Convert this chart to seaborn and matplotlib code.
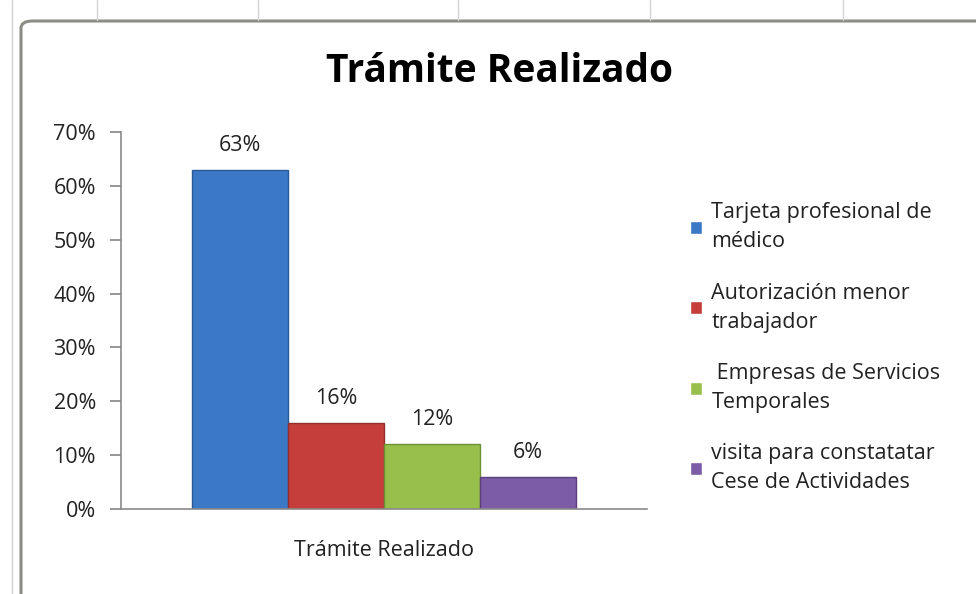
import pandas as pd
import seaborn as sns
import matplotlib.pyplot as plt
from matplotlib.patches import FancyBboxPatch

## data
grupo = ["Trámite Realizado"]
categorias = ["Tarjeta profesional de\nmédico",
              "Autorización menor\ntrabajador",
              " Empresas de Servicios\nTemporales",
              "visita para constatatar\nCese de Actividades"]
valores = [0.63, 0.16, 0.12, 0.06]
etiquetas = ["63%", "16%", "12%", "6%"]
colores = ["#3b78c6", "#c53e3c", "#98be4c", "#7c5ca6"]
bordes = ["#2a5a96", "#93302e", "#6f8f34", "#5a4079"]

df = pd.DataFrame({"grupo": grupo * len(categorias),
                   "categoria": categorias,
                   "valor": valores})

sns.set_theme(style="white")
plt.rcParams['font.family'] = ['Open Sans', 'DejaVu Sans']
fs = 15.5

fig = plt.figure(figsize=(9.76, 5.94), dpi=100)
fig.patch.set_facecolor("white")

## spreadsheet strip and chart frame
for xp in [97, 258, 458, 650, 843]:
    fig.add_artist(plt.Line2D([xp / 976, xp / 976], [1, 1 - 20 / 594],
                              transform=fig.transFigure, color="#d4d4d4", lw=1))
fig.add_artist(plt.Line2D([12 / 976, 12 / 976], [0, 1],
                          transform=fig.transFigure, color="#d0d0d0", lw=1))
frame = FancyBboxPatch((21 / 976, -0.05), 1.0, 1 - 21 / 594 + 0.05,
                       boxstyle="round,pad=0,rounding_size=0.012",
                       transform=fig.transFigure, facecolor="white",
                       edgecolor="#8c8c84", lw=2.2, zorder=0)
fig.add_artist(frame)

ax = fig.add_axes([121 / 976, 85 / 594, 526 / 976, 377 / 594])
ax.set_facecolor("none")
sns.barplot(data=df, x="grupo", y="valor", hue="categoria", palette=colores,
            width=0.73, gap=0, dodge=True, saturation=1, ax=ax, linewidth=1)

for cont, lab, bc in zip(ax.containers, etiquetas, bordes):
    for p in cont:
        p.set_edgecolor(bc)
    ax.bar_label(cont, labels=[lab], padding=10, fontsize=fs, color="#222222")

ax.set_ylim(0, 0.7)
ax.set_xlim(-0.5, 0.5)
ax.set_yticks([i / 10 for i in range(8)])
ax.set_yticklabels([f"{i * 10}%" for i in range(8)], fontsize=fs, color="#222222")
ax.set_xticks([0])
ax.set_xticklabels(grupo, fontsize=fs, color="#222222")
ax.set_xticks([-0.5, 0.5], minor=True)
ax.tick_params(axis="x", which="major", length=0, pad=22)
ax.tick_params(axis="x", which="minor", length=8, color="#8a8a8a", direction="out")
ax.tick_params(axis="y", length=8, color="#8a8a8a", direction="out", left=True, pad=10)
ax.set_xlabel("")
ax.set_ylabel("")
for side in ["top", "right"]:
    ax.spines[side].set_visible(False)
for side in ["left", "bottom"]:
    ax.spines[side].set_color("#8a8a8a")
    ax.spines[side].set_linewidth(1.2)

fig.text(500 / 976, 1 - 72 / 594, "Trámite Realizado", ha="center", va="center",
         fontsize=28, fontweight="bold", color="black")

handles, labels = ax.get_legend_handles_labels()
ax.legend_.remove()
leg = fig.legend(handles, labels, loc="upper left",
                 bbox_to_anchor=(671 / 976, 1 - 183 / 594), frameon=False,
                 fontsize=fs, handlelength=0.55, handleheight=0.55,
                 handletextpad=0.42, labelspacing=1.4)
for t in leg.get_texts():
    t.set_linespacing(1.5)
    t.set_color("#222222")

fig.savefig("out.png", dpi=100)
